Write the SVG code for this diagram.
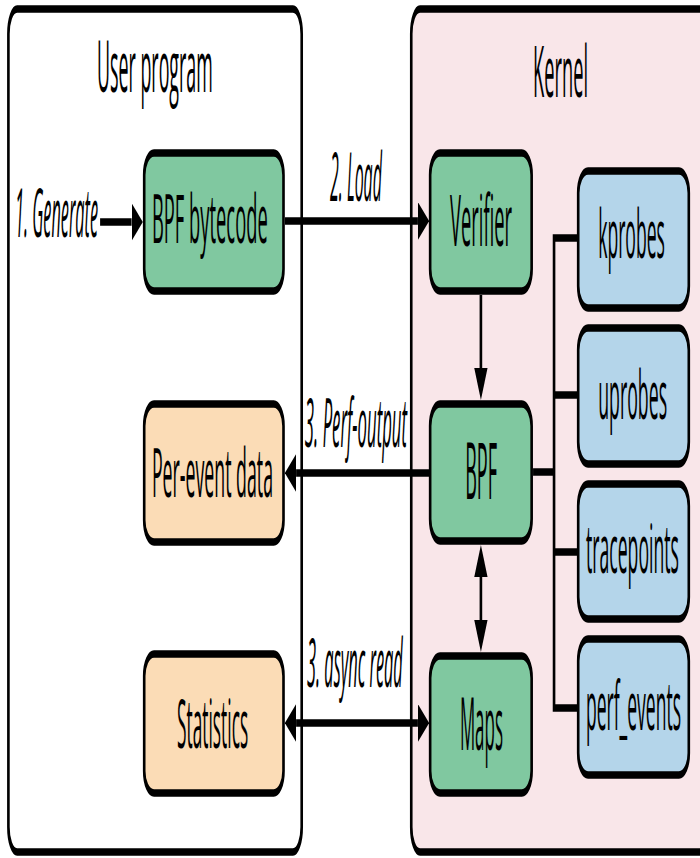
<svg xmlns="http://www.w3.org/2000/svg" width="700" height="858" viewBox="0 0 700 858">
  <defs>
    <style>
      .frame { stroke: #000; stroke-width: 7.5; }
      .box { stroke: #000; stroke-width: 7.5; }
      .green { fill: #80c8a0; }
      .peach { fill: #fbdcb6; }
      .blue { fill: #b4d5ea; }
      .t { font-family: "Open Sans", "Liberation Sans", sans-serif; font-size: 68px; fill: #000; }
      .title { font-family: "Open Sans", "Liberation Sans", sans-serif; font-size: 72px; fill: #000; }
      .lbl { font-family: "Open Sans", "Liberation Sans", sans-serif; font-style: italic; font-size: 68px; fill: #000; }
      .wire { fill: none; stroke: #000; stroke-width: 7.5; }
    </style>
    <marker id="ah" markerUnits="userSpaceOnUse" markerWidth="32" markerHeight="38" refX="0" refY="19" orient="auto-start-reverse" viewBox="0 0 32 38">
      <path d="M0,0 L32,19 L0,38 z" fill="#000"/>
    </marker>
  </defs>
  <rect width="700" height="858" fill="#fff"/>
  <g transform="scale(0.35,1)">
    <g id="user-program">
      <rect class="frame" x="24" y="9" width="838" height="843" rx="25" ry="25" fill="#fff"/>
      <text class="title" x="277" y="92" textLength="331" lengthAdjust="spacingAndGlyphs">User program</text>
    </g>
    <g id="kernel">
      <rect class="frame" x="1175" y="9" width="900" height="843" rx="25" ry="25" fill="#f9e6e9"/>
      <text class="title" x="1523" y="97" textLength="157" lengthAdjust="spacingAndGlyphs">Kernel</text>
    </g>

    <g id="connectors">
      <path class="wire" d="M286,222 H376" marker-end="url(#ah)"/>
      <path class="wire" d="M814,221 H1194" marker-end="url(#ah)"/>
      <path class="wire" d="M1374,295 V368" marker-end="url(#ah)"/>
      <path class="wire" d="M1226,473 H846" marker-end="url(#ah)"/>
      <path class="wire" d="M1374,577 V620" marker-start="url(#ah)" marker-end="url(#ah)"/>
      <path class="wire" d="M846,723 H1194" marker-start="url(#ah)" marker-end="url(#ah)"/>
      <path class="wire" d="M1523,472 H1583"/>
      <path class="wire" d="M1649,238 H1583 V708 H1649"/>
      <path class="wire" d="M1583,395 H1649"/>
      <path class="wire" d="M1583,552 H1649"/>
    </g>

    <g id="label-generate"><text class="lbl" x="43" y="237" textLength="237" lengthAdjust="spacingAndGlyphs">1. Generate</text></g>
    <g id="label-load"><text class="lbl" x="943" y="201" textLength="148" lengthAdjust="spacingAndGlyphs">2. Load</text></g>
    <g id="label-perf-output"><text class="lbl" x="871" y="447" textLength="292" lengthAdjust="spacingAndGlyphs">3. Perf-output</text></g>
    <g id="label-async-read"><text class="lbl" x="877" y="687" textLength="274" lengthAdjust="spacingAndGlyphs">3. async read</text></g>

    <g id="bpf-bytecode">
      <rect class="box green" x="412" y="153" width="398" height="138" rx="28" ry="22"/>
      <text class="t" x="434" y="243" textLength="331" lengthAdjust="spacingAndGlyphs">BPF bytecode</text>
    </g>
    <g id="per-event-data">
      <rect class="box peach" x="412" y="404" width="398" height="138" rx="28" ry="22"/>
      <text class="t" x="434" y="497" textLength="346" lengthAdjust="spacingAndGlyphs">Per-event data</text>
    </g>
    <g id="statistics">
      <rect class="box peach" x="412" y="654" width="398" height="139" rx="28" ry="22"/>
      <text class="t" x="506" y="748" textLength="203" lengthAdjust="spacingAndGlyphs">Statistics</text>
    </g>
    <g id="verifier">
      <rect class="box green" x="1229" y="153" width="290" height="138" rx="28" ry="22"/>
      <text class="t" x="1286" y="246" style="font-size:72px" textLength="177" lengthAdjust="spacingAndGlyphs">Verifier</text>
    </g>
    <g id="bpf">
      <rect class="box green" x="1229" y="404" width="290" height="137" rx="28" ry="22"/>
      <text class="t" x="1329" y="499" style="font-size:78px" textLength="91" lengthAdjust="spacingAndGlyphs">BPF</text>
    </g>
    <g id="maps">
      <rect class="box green" x="1229" y="656" width="290" height="137" rx="28" ry="22"/>
      <text class="t" x="1314" y="750" style="font-size:74px" textLength="123" lengthAdjust="spacingAndGlyphs">Maps</text>
    </g>
    <g id="kprobes">
      <rect class="box blue" x="1652" y="171" width="316" height="137" rx="28" ry="22"/>
      <text class="t" x="1709" y="258" textLength="191" lengthAdjust="spacingAndGlyphs">kprobes</text>
    </g>
    <g id="uprobes">
      <rect class="box blue" x="1652" y="328" width="316" height="136" rx="28" ry="22"/>
      <text class="t" x="1709" y="419" textLength="197" lengthAdjust="spacingAndGlyphs">uprobes</text>
    </g>
    <g id="tracepoints">
      <rect class="box blue" x="1652" y="484" width="316" height="135" rx="28" ry="22"/>
      <text class="t" x="1674" y="573" textLength="266" lengthAdjust="spacingAndGlyphs">tracepoints</text>
    </g>
    <g id="perf-events">
      <rect class="box blue" x="1652" y="639" width="316" height="136" rx="28" ry="22"/>
      <text class="t" x="1674" y="730" textLength="272" lengthAdjust="spacingAndGlyphs">perf_events</text>
    </g>
  </g>
</svg>
